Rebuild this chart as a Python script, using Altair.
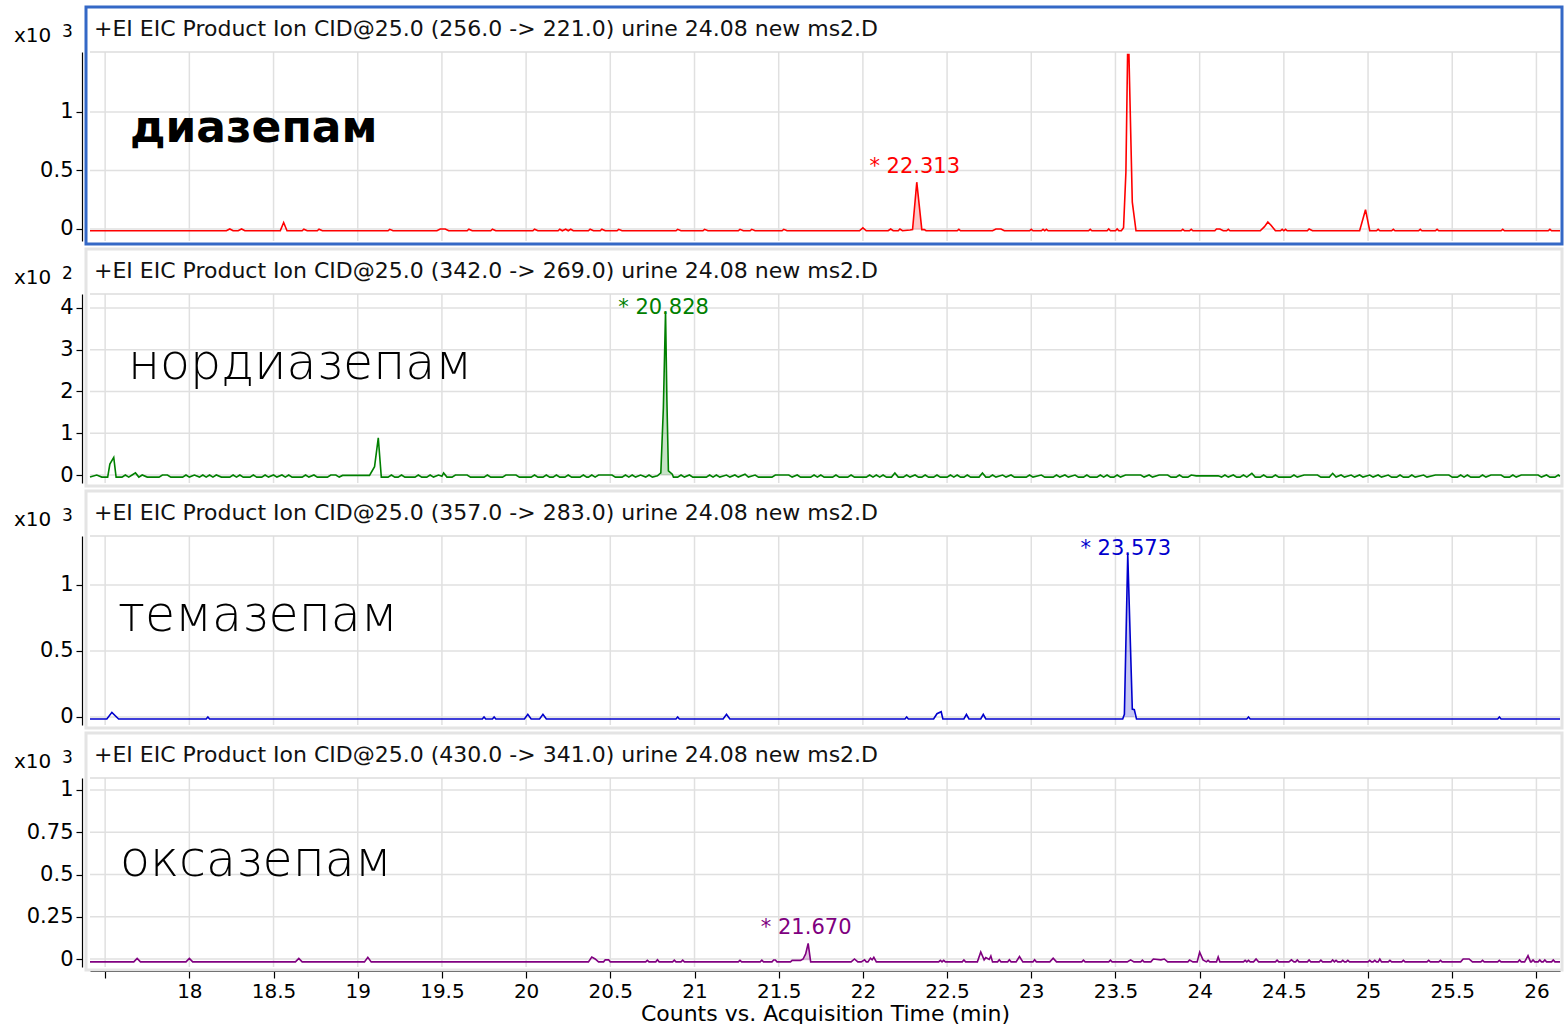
import altair as alt
import pandas as pd

# ---------------- data ----------------
X_DOMAIN = [17.41, 26.14]
x_ticks = [17.5, 18, 18.5, 19, 19.5, 20, 20.5, 21, 21.5, 22, 22.5, 23, 23.5, 24, 24.5, 25, 25.5, 26]

titles = [
    "+EI EIC Product Ion CID@25.0 (256.0 -> 221.0) urine 24.08 new ms2.D",
    "+EI EIC Product Ion CID@25.0 (342.0 -> 269.0) urine 24.08 new ms2.D",
    "+EI EIC Product Ion CID@25.0 (357.0 -> 283.0) urine 24.08 new ms2.D",
    "+EI EIC Product Ion CID@25.0 (430.0 -> 341.0) urine 24.08 new ms2.D",
]
exponents = ["3", "2", "3", "3"]
names = ["диазепам", "нордиазепам", "темазепам", "оксазепам"]
peak_labels = ["* 22.313", "* 20.828", "* 23.573", "* 21.670"]

y_domains = [[-0.1026, 1.5128], [-0.1916, 4.335], [-0.0606, 1.371], [-0.0473, 1.071]]
y_ticks = [[0, 0.5, 1], [0, 1, 2, 3, 4], [0, 0.5, 1], [0, 0.25, 0.5, 0.75, 1]]

# diazepam (x10^3)
R = -0.015
red_t = [17.41,
         18.22, 18.24, 18.26, 18.29, 18.31, 18.33,
         18.54, 18.56, 18.58, 18.67, 18.68, 18.70,
         18.76, 18.77, 18.79, 19.18, 19.19, 19.21,
         19.47, 19.49, 19.52, 19.54,
         19.65, 19.66, 19.68, 19.79, 19.80, 19.82,
         20.04, 20.05, 20.07,
         20.19, 20.20, 20.215, 20.235, 20.25, 20.265, 20.28,
         20.37, 20.38, 20.40, 20.44, 20.45, 20.47,
         20.54, 20.55, 20.57, 20.89, 20.90, 20.92,
         21.05, 21.06, 21.08, 21.26, 21.27, 21.29,
         21.33, 21.34, 21.36, 21.52, 21.53, 21.55,
         21.98, 22.00, 22.02, 22.15, 22.165, 22.18,
         22.21, 22.22, 22.235,
         22.28, 22.295, 22.32, 22.35, 22.365, 22.375,
         22.56, 22.57, 22.58,
         22.77, 22.79, 22.82, 22.84,
         22.99, 23.00, 23.01,
         23.06, 23.07, 23.08, 23.09, 23.10,
         23.34, 23.35, 23.36, 23.45, 23.46, 23.47,
         23.50, 23.51, 23.52,
         23.535, 23.548, 23.562, 23.572, 23.580, 23.600, 23.622,
         23.89, 23.90, 23.91, 23.94, 23.95, 23.96,
         24.09, 24.10, 24.12, 24.14,
         24.16, 24.17, 24.18,
         24.36, 24.385, 24.405, 24.425, 24.45,
         24.48, 24.49, 24.50, 24.51, 24.52,
         24.64, 24.65, 24.67,
         24.95, 24.985, 25.01,
         25.05, 25.06, 25.07, 25.14, 25.15, 25.16,
         25.30, 25.31, 25.32, 25.40, 25.41, 25.42,
         25.79, 25.80, 25.81, 26.07, 26.08, 26.09,
         26.14]
red_v = [R,
         R, 0.0, R, R, 0.0, R,
         R, 0.055, R, R, -0.002, R,
         R, -0.002, R, R, -0.003, R,
         R, 0.0, 0.0, R,
         R, -0.002, R, R, -0.002, R,
         R, -0.002, R,
         R, -0.002, R, -0.002, R, -0.002, R,
         R, -0.002, R, R, -0.002, R,
         R, -0.003, R, R, -0.003, R,
         R, -0.003, R, R, -0.003, R,
         R, -0.003, R, R, -0.003, R,
         R, 0.01, R, R, 0.0, R,
         R, 0.0, R,
         -0.008, -0.005, 0.40, -0.005, -0.005, R,
         R, -0.003, R,
         R, 0.0, 0.0, R,
         R, -0.003, R,
         R, -0.003, R, -0.003, R,
         R, -0.003, R, R, 0.0, R,
         R, 0.0, R,
         R, 0.01, 0.485, 1.49, 1.49, 0.23, R,
         R, -0.003, R, R, -0.003, R,
         R, 0.0, 0.0, R,
         R, -0.003, R,
         R, 0.02, 0.06, 0.03, R,
         R, -0.003, R, -0.003, R,
         R, 0.0, R,
         R, 0.165, R,
         R, -0.003, R, R, -0.003, R,
         R, -0.003, R, R, -0.003, R,
         R, -0.003, R, R, -0.003, R,
         R]
red_shade_t = [22.295, 22.32, 22.35, 22.365]
red_shade_v = [-0.005, 0.40, -0.005, -0.005]

# nordiazepam (x10^2)
G = -0.05
green_t = [17.41, 17.45, 17.48, 17.515, 17.528, 17.551,
           17.565, 17.60, 17.62, 17.64, 17.66, 17.68,
           17.70, 17.72, 17.75, 17.82, 17.84, 17.87,
           17.89, 17.96, 17.98, 18.00, 18.03, 18.06,
           18.08, 18.10, 18.12, 18.14, 18.16, 18.19,
           18.24, 18.26, 18.28, 18.30, 18.32, 18.36,
           18.38, 18.40, 18.43, 18.45, 18.47, 18.50,
           18.52, 18.55, 18.57, 18.59, 18.61, 18.67,
           18.69, 18.71, 18.74, 18.76, 18.82, 18.84,
           18.87, 18.89, 18.91, 19.07, 19.10, 19.122,
           19.14, 19.18, 19.20, 19.22, 19.24, 19.26,
           19.28, 19.34, 19.36, 19.38, 19.41, 19.43,
           19.45, 19.48, 19.50, 19.51, 19.53, 19.56,
           19.58, 19.65, 19.67, 19.75, 19.77, 19.79,
           19.86, 19.88, 19.94, 19.96, 20.03, 20.05,
           20.07, 20.10, 20.12, 20.14, 20.16, 20.18,
           20.20, 20.23, 20.25, 20.27, 20.32, 20.34,
           20.36, 20.37, 20.39, 20.41, 20.43, 20.51,
           20.53, 20.57, 20.59, 20.61, 20.63, 20.65,
           20.68, 20.71, 20.73, 20.75, 20.78, 20.80,
           20.815, 20.828, 20.836, 20.845, 20.868, 20.875,
           20.90, 20.92, 20.94, 20.97, 20.99, 21.07,
           21.09, 21.11, 21.13, 21.15, 21.19, 21.21,
           21.24, 21.26, 21.30, 21.32, 21.36, 21.38,
           21.46, 21.48, 21.56, 21.58, 21.61, 21.63,
           21.69, 21.71, 21.73, 21.75, 21.77, 21.82,
           21.84, 21.86, 21.91, 21.93, 21.95, 22.02,
           22.04, 22.06, 22.08, 22.10, 22.12, 22.14,
           22.17, 22.19, 22.21, 22.24, 22.26, 22.28,
           22.31, 22.33, 22.35, 22.37, 22.39, 22.42,
           22.44, 22.46, 22.50, 22.52, 22.54, 22.56,
           22.58, 22.60, 22.62, 22.64, 22.69, 22.71,
           22.73, 22.75, 22.77, 22.79, 22.83, 22.85,
           22.88, 22.90, 22.97, 22.99, 23.01, 23.06,
           23.08, 23.13, 23.15, 23.17, 23.20, 23.22,
           23.26, 23.28, 23.31, 23.33, 23.35, 23.39,
           23.41, 23.43, 23.45, 23.47, 23.49, 23.51,
           23.53, 23.56, 23.65, 23.67, 23.70, 23.72,
           23.76, 23.81, 23.83, 23.86, 23.88, 23.90,
           23.93, 23.95, 23.98, 24.11, 24.13, 24.15,
           24.17, 24.20, 24.22, 24.24, 24.26, 24.28,
           24.31, 24.33, 24.36, 24.38, 24.40, 24.43,
           24.45, 24.47, 24.54, 24.56, 24.58, 24.62,
           24.70, 24.72, 24.77, 24.79, 24.81, 24.84,
           24.86, 24.90, 24.92, 24.95, 24.97, 25.01,
           25.03, 25.06, 25.08, 25.12, 25.14, 25.17,
           25.19, 25.21, 25.24, 25.26, 25.28, 25.33,
           25.35, 25.40, 25.48, 25.50, 25.53, 25.55,
           25.57, 25.59, 25.61, 25.66, 25.68, 25.70,
           25.73, 25.79, 25.81, 25.84, 25.86, 25.88,
           25.91, 26.01, 26.03, 26.06, 26.08, 26.11,
           26.13, 26.14]
green_v = [G, 0.0, G, G, 0.26, 0.42,
           G, G, 0.0, G, 0.0, 0.05,
           G, 0.0, G, G, 0.0, 0.0,
           G, G, 0.0, G, 0.0, G,
           0.0, G, 0.0, G, 0.0, G,
           G, 0.0, G, 0.0, G, G,
           0.0, G, G, 0.0, G, 0.0,
           G, 0.0, G, 0.0, G, G,
           0.0, G, 0.0, G, G, 0.0,
           0.0, G, -0.01, -0.01, 0.2, 0.89,
           G, G, 0.0, G, G, 0.0,
           G, G, 0.0, G, G, 0.0,
           G, 0.0, -0.03, 0.05, G, G,
           0.0, 0.0, G, G, 0.0, G,
           G, 0.0, 0.0, G, G, 0.0,
           G, G, 0.0, G, G, 0.0,
           G, G, 0.0, G, G, 0.0,
           G, G, 0.0, G, 0.0, 0.0,
           G, G, 0.0, G, 0.0, G,
           0.0, G, 0.0, G, -0.02, 0.05,
           1.6, 3.92, 1.8, 0.1, 0.02, G,
           G, 0.0, G, 0.0, G, G,
           0.0, G, 0.0, G, 0.0, G,
           0.0, G, 0.02, G, 0.0, G,
           G, 0.0, 0.0, G, 0.0, G,
           G, 0.0, G, 0.0, G, G,
           0.0, G, G, 0.0, G, G,
           0.0, G, 0.0, G, 0.0, G,
           G, 0.05, G, G, 0.0, G,
           0.0, G, G, 0.0, G, G,
           0.0, G, G, 0.0, G, 0.0,
           G, G, 0.0, G, G, 0.05,
           G, G, 0.0, G, 0.0, G,
           0.0, G, G, 0.0, G, 0.0,
           G, G, 0.0, G, 0.0, G,
           0.0, G, G, 0.0, G, G,
           0.0, G, 0.0, G, G, 0.0,
           G, 0.0, 0.0, G, 0.0, G,
           0.0, 0.0, G, G, 0.0, G,
           G, 0.0, -0.02, -0.02, G, 0.0,
           G, 0.0, G, G, 0.0, G,
           0.04, G, G, 0.0, G, G,
           0.0, G, G, 0.0, G, 0.0,
           0.0, G, G, 0.04, G, 0.0,
           G, 0.0, G, 0.0, G, 0.0,
           G, 0.0, G, 0.0, G, G,
           0.0, G, G, 0.0, G, 0.0,
           G, 0.0, 0.0, G, G, 0.0,
           G, 0.0, G, G, 0.0, G,
           0.0, 0.0, G, G, 0.0, G,
           0.0, 0.0, G, 0.0, G, G,
           0.0, -0.03]
green_shade_t = [20.80, 20.815, 20.828, 20.836, 20.845, 20.868]
green_shade_v = [0.05, 1.6, 3.92, 1.8, 0.1, 0.02]

# temazepam (x10^3)
B = -0.015
blue_t = [17.41, 17.51, 17.54, 17.58,
          18.10, 18.11, 18.12,
          19.74, 19.75, 19.76, 19.80, 19.81, 19.82,
          19.99, 20.01, 20.03, 20.08, 20.10, 20.12,
          20.89, 20.90, 20.91, 21.17, 21.19, 21.21,
          22.25, 22.26, 22.27,
          22.42, 22.44, 22.465, 22.475,
          22.60, 22.615, 22.63, 22.70, 22.715, 22.73,
          23.543, 23.553, 23.573, 23.600, 23.612, 23.625,
          24.28, 24.29, 24.30, 25.77, 25.78, 25.79,
          26.14]
blue_v = [B, B, 0.035, B,
          B, 0.0, B,
          B, 0.0, B, B, 0.0, B,
          B, 0.02, B, B, 0.02, B,
          B, 0.0, B, B, 0.02, B,
          B, 0.0, B,
          B, 0.025, 0.04, B,
          B, 0.02, B, B, 0.02, B,
          B, 0.02, 1.235, 0.06, 0.055, B,
          B, 0.0, B, B, 0.0, B,
          B]
blue_shade_t = [23.553, 23.573, 23.600, 23.612]
blue_shade_v = [0.02, 1.235, 0.06, 0.055]

# oxazepam (x10^3)
P = -0.017
purple_t = [17.41,
            17.67, 17.69, 17.71, 17.98, 18.00, 18.02,
            18.63, 18.65, 18.67, 19.04, 19.06, 19.08,
            20.37, 20.39, 20.41, 20.43,
            20.46, 20.47, 20.49, 20.50,
            20.71, 20.72, 20.73, 20.77, 20.78, 20.79,
            20.87, 20.88, 20.89, 20.92, 20.93, 20.94,
            21.26, 21.27, 21.28, 21.39, 21.40, 21.41,
            21.46, 21.47, 21.48, 21.49,
            21.57, 21.58, 21.63, 21.645, 21.66, 21.675, 21.69,
            21.93, 21.95, 21.97, 21.99, 22.01, 22.02,
            22.03, 22.045, 22.055, 22.065, 22.08,
            22.45, 22.46, 22.47, 22.48, 22.49,
            22.59, 22.60, 22.61,
            22.68, 22.70, 22.72, 22.73, 22.75, 22.76, 22.77,
            22.80, 22.81, 22.82, 22.86, 22.87, 22.88,
            22.91, 22.93, 22.95, 23.01, 23.02, 23.03,
            23.11, 23.13, 23.15, 23.30, 23.31, 23.32,
            23.46, 23.47, 23.48, 23.57, 23.59, 23.61,
            23.65, 23.66, 23.67,
            23.71, 23.725, 23.77, 23.79, 23.81,
            23.93, 23.94, 23.96,
            23.985, 24.00, 24.02, 24.04, 24.05, 24.06,
            24.10, 24.11, 24.12,
            24.26, 24.27, 24.28, 24.29, 24.30,
            24.32, 24.335, 24.35, 24.45, 24.46, 24.47,
            24.53, 24.545, 24.56, 24.57, 24.58, 24.59,
            24.64, 24.65, 24.66, 24.71, 24.72, 24.73,
            24.78, 24.79, 24.80, 24.81, 24.82,
            24.84, 24.85, 24.86, 24.87, 24.88, 24.89,
            25.00, 25.01, 25.02, 25.03, 25.04, 25.05,
            25.06, 25.07, 25.08, 25.12, 25.13, 25.14,
            25.20, 25.21, 25.22, 25.35, 25.36, 25.37,
            25.42, 25.43, 25.44,
            25.55, 25.565, 25.60, 25.62,
            25.67, 25.68, 25.69, 25.77, 25.78, 25.79,
            25.89, 25.90, 25.91, 25.93, 25.95, 25.965,
            25.97, 25.98, 25.99, 26.01, 26.02, 26.03,
            26.04, 26.05, 26.06, 26.09, 26.10, 26.11,
            26.14]
purple_v = [P,
            P, 0.003, P, P, 0.003, P,
            P, 0.003, P, P, 0.01, P,
            P, 0.012, 0.0, P,
            P, -0.005, -0.005, P,
            P, -0.008, P, P, -0.005, P,
            P, -0.007, P, P, -0.007, P,
            P, -0.008, P, P, -0.007, P,
            P, -0.006, -0.006, P,
            P, -0.008, -0.008, 0.0, 0.03, 0.092, P,
            P, 0.0, P, P, -0.005, P,
            P, 0.005, -0.005, 0.01, P,
            P, -0.008, P, -0.008, P,
            P, -0.006, P,
            P, 0.042, -0.005, 0.008, -0.003, 0.018, P,
            P, -0.005, P, P, -0.005, P,
            P, 0.015, P, P, -0.005, P,
            P, 0.005, P, P, -0.007, P,
            P, -0.007, P, P, -0.005, P,
            P, -0.007, P,
            P, 0.0, -0.005, 0.0, P,
            P, -0.006, P,
            P, 0.04, -0.005, P, -0.008, P,
            P, 0.012, P,
            P, -0.008, P, -0.008, P,
            P, 0.0, P, P, -0.007, P,
            P, -0.005, P, P, -0.006, P,
            P, -0.006, P, P, -0.007, P,
            P, -0.006, P, -0.008, P,
            P, -0.008, P, P, -0.008, P,
            P, -0.008, P, P, -0.008, P,
            P, 0.0, P, P, -0.008, P,
            P, -0.008, P, P, -0.008, P,
            P, -0.008, P,
            P, 0.0, 0.0, P,
            P, -0.008, P, P, -0.008, P,
            P, -0.006, P, P, 0.02, P,
            P, -0.006, P, P, -0.006, P,
            P, -0.006, P, P, -0.006, P,
            P]
purple_shade_t = [21.63, 21.645, 21.66, 21.675, 21.69]
purple_shade_v = [-0.008, 0.0, 0.03, 0.092, P]

label_t = [22.32, 20.828, 23.573, 21.675]
label_v = [0.40, 3.92, 1.235, 0.092]

# ---------------- styling ----------------
W = 1470
PLOT_TOP = 47
PLOT_BOT = 236
FONT = "DejaVu Sans"
line_colors = ["#ff0000", "#008000", "#0000cd", "#800080"]
shade_bases = [-0.005, 0.0, 0.0, -0.008]
label_dy = [-9, 3, 1, -9]
frame_colors = ["#3468c6", "#e4e4e4", "#e4e4e4", "#e4e4e4"]
GRID = "#e0e0e0"

traces = [(red_t, red_v), (green_t, green_v), (blue_t, blue_v), (purple_t, purple_v)]
shades = [(red_shade_t, red_shade_v), (green_shade_t, green_shade_v),
          (blue_shade_t, blue_shade_v), (purple_shade_t, purple_shade_v)]


def panel(i):
    bottom = i == 3
    one = pd.DataFrame({"k": [0]})
    if bottom:
        xaxis = alt.Axis(values=x_ticks, format=".1~f",
                         labelExpr="datum.value == 17.5 ? '' : datum.label",
                         grid=False, domainColor="black", domainWidth=1.2,
                         tickColor="black", tickSize=7, tickWidth=1.2,
                         labelFont=FONT, labelFontSize=20, labelColor="black",
                         labelPadding=3, labelFlush=False,
                         title="Counts vs. Acquisition Time (min)",
                         titleFont=FONT, titleFontSize=22, titleFontWeight="normal",
                         titleColor="black", titlePadding=2)
    else:
        xaxis = None
    X = alt.X("t:Q", scale=alt.Scale(domain=X_DOMAIN, nice=False, zero=False), axis=xaxis)
    Y = alt.Y("v:Q",
              scale=alt.Scale(domain=y_domains[i], range=[PLOT_BOT, PLOT_TOP], nice=False, zero=False),
              axis=alt.Axis(values=y_ticks[i], format=".2~f", grid=False, title=None,
                            domainColor="black", domainWidth=1.2, tickColor="black",
                            tickSize=6, tickWidth=1.2, offset=8,
                            labelFont=FONT, labelFontSize=21, labelColor="black",
                            labelPadding=3, labelFlush=False))

    vgrid = alt.Chart(pd.DataFrame({"t": x_ticks})).mark_rule(
        color=GRID, strokeWidth=1.5).encode(x=X, y=alt.value(PLOT_TOP), y2=alt.value(PLOT_BOT))
    hgrid = alt.Chart(pd.DataFrame({"v": y_ticks[i]})).mark_rule(
        color=GRID, strokeWidth=1.5).encode(y=Y, x=alt.value(0), x2=alt.value(W))
    sep = alt.Chart(one).mark_rule(color="#dcdcdc", strokeWidth=1.5).encode(
        x=alt.value(0), x2=alt.value(W), y=alt.value(PLOT_TOP))
    title = alt.Chart(one).mark_text(
        align="left", baseline="alphabetic", font=FONT, fontSize=22, color="#111111").encode(
        x=alt.value(4), y=alt.value(31), text=alt.value(titles[i]))
    x10 = alt.Chart(one).mark_text(
        align="left", baseline="alphabetic", font=FONT, fontSize=20, color="black").encode(
        x=alt.value(-76), y=alt.value(37), text=alt.value("x10"))
    expo = alt.Chart(one).mark_text(
        align="left", baseline="alphabetic", font=FONT, fontSize=17, color="black").encode(
        x=alt.value(-28), y=alt.value(32), text=alt.value(exponents[i]))
    if i == 0:
        name = alt.Chart(one).mark_text(
            align="left", baseline="alphabetic", font=FONT, fontSize=44, fontWeight="bold",
            color="black").encode(x=alt.value(40), y=alt.value(137), text=alt.value(names[i]))
    else:
        nx = [38, 28, 30][i - 1]
        ny = [132, 142, 145][i - 1]
        name = alt.Chart(one).mark_text(
            align="left", baseline="alphabetic", font=FONT, fontSize=49, fontWeight=200,
            color="black").encode(x=alt.value(nx), y=alt.value(ny), text=alt.value(names[i]))

    st, sv = shades[i]
    sdf = pd.DataFrame({"t": st, "v": sv, "b": [shade_bases[i]] * len(st)})
    area = alt.Chart(sdf).mark_area(color=line_colors[i], opacity=0.22, interpolate="linear").encode(
        x=X, y=Y, y2="b:Q")
    tt, tv = traces[i]
    line = alt.Chart(pd.DataFrame({"t": tt, "v": tv})).mark_line(
        color=line_colors[i], strokeWidth=1.6, interpolate="linear").encode(x=X, y=Y)
    lab = alt.Chart(pd.DataFrame({"t": [label_t[i]], "v": [label_v[i]], "txt": [peak_labels[i]]})).mark_text(
        align="center", baseline="alphabetic", font=FONT, fontSize=21, color=line_colors[i],
        dy=label_dy[i], dx=-2).encode(x=X, y=Y, text="txt:N")
    frame = alt.Chart(one).mark_rect(
        fillOpacity=0, stroke=frame_colors[i], strokeWidth=3).encode(
        x=alt.value(-4), x2=alt.value(W + 2), y=alt.value(2), y2=alt.value(239))

    return alt.layer(vgrid, hgrid, sep, title, x10, expo, name, area, line, lab, frame).properties(
        width=W, height=240 if bottom else 242)


chart = alt.vconcat(*[panel(i) for i in range(4)], spacing=0, bounds="flush").properties(
    padding={"left": 14, "top": 5, "right": 0, "bottom": 0},
    background="white",
).configure_view(stroke=None)

chart.save("out.html", embed_options={"renderer": "svg", "actions": False})
